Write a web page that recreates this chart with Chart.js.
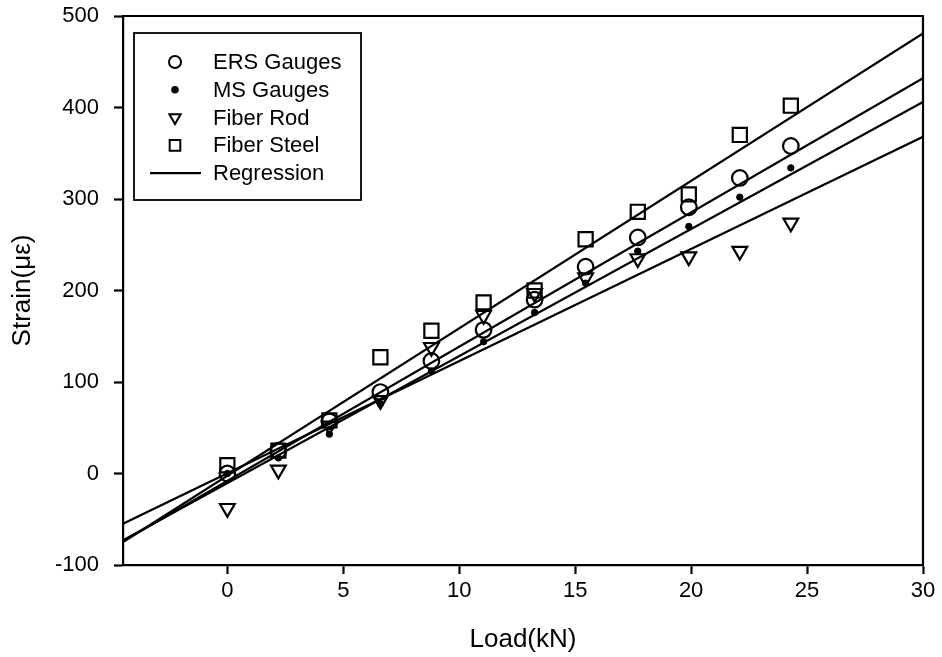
<!DOCTYPE html>
<html>
<head>
<meta charset="utf-8">
<script src="https://cdn.jsdelivr.net/npm/chart.js@4.4.0/dist/chart.umd.min.js"></script>
<style>
  html, body { margin: 0; padding: 0; background: #fff; }
  #wrap { width: 942px; height: 657px; }
</style>
</head>
<body>
<div id="wrap"><canvas id="strainChart" width="942" height="657"></canvas></div>
<script>
// load steps (kN)
const loads = [0, 2.2, 4.4, 6.6, 8.8, 11.05, 13.25, 15.45, 17.7, 19.9, 22.1, 24.3];

// measured strain (microstrain)
const ersGauges = [0, 25, 57, 89, 123, 157, 190, 226, 258, 291, 323, 358];
const msGauges = [0, 17, 43, 76, 112, 144, 176, 208, 243, 270, 302, 334];
const fiberRod = [-38, 4, 52, 80, 138, 173, 197, 214, 235, 237, 243, 274];
const fiberSteel = [9, 25, 58, 127, 156, 187, 200, 256, 286, 305, 370, 402];

// regression line end points
const regLoads = [-4.5, 30];
const regSteel = [-75, 481];
const regErs = [-74, 432];
const regMs = [-73, 406];
const regRod = [-55, 368];

const xTicks = [0, 5, 10, 15, 20, 25, 30];
const yTicks = [-100, 0, 100, 200, 300, 400, 500];

const FONT = "Arial, 'Liberation Sans', sans-serif";

function pts(xs, ys) {
  return xs.map((x, i) => ({ x: x, y: ys[i] }));
}

function regLine(ys) {
  return {
    label: "Regression",
    data: pts(regLoads, ys),
    showLine: true,
    borderColor: "#000",
    borderWidth: 2.2,
    pointRadius: 0,
    pointHoverRadius: 0,
    fill: false,
  };
}

// box around the plot (top and right sides)
const frame = {
  id: "frame",
  afterDatasetsDraw(chart) {
    const { ctx, chartArea: a } = chart;
    ctx.save();
    ctx.strokeStyle = "#000";
    ctx.lineWidth = 2.2;
    ctx.beginPath();
    ctx.moveTo(a.left, a.top);
    ctx.lineTo(a.right, a.top);
    ctx.lineTo(a.right, a.bottom);
    ctx.stroke();
    ctx.restore();
  },
};

// legend box in the upper left of the plot
const legendBox = {
  id: "legendBox",
  afterDraw(chart) {
    const ctx = chart.ctx;
    const a = chart.chartArea;
    const left = a.left + 11, top = a.top + 17, w = 227, h = 167;
    ctx.save();
    ctx.fillStyle = "#fff";
    ctx.fillRect(left, top, w, h);
    ctx.strokeStyle = "#000";
    ctx.lineWidth = 1.8;
    ctx.strokeRect(left, top, w, h);

    const items = [
      { text: "ERS Gauges", style: "circle", r: 6, fill: false, rot: 0 },
      { text: "MS Gauges", style: "circle", r: 2.8, fill: true, rot: 0 },
      { text: "Fiber Rod", style: "triangle", r: 6.5, fill: false, rot: 180 },
      { text: "Fiber Steel", style: "rect", r: 7.5, fill: false, rot: 0 },
      { text: "Regression", style: "line" },
    ];
    ctx.font = "22px " + FONT;
    ctx.textBaseline = "middle";
    ctx.textAlign = "left";
    items.forEach((it, i) => {
      const y = top + 29 + i * 27.8;
      const mx = left + 41;
      ctx.strokeStyle = "#000";
      ctx.fillStyle = "#000";
      if (it.style === "line") {
        ctx.lineWidth = 2.2;
        ctx.beginPath();
        ctx.moveTo(left + 16, y);
        ctx.lineTo(left + 67, y);
        ctx.stroke();
      } else {
        ctx.lineWidth = 2;
        ctx.fillStyle = it.fill ? "#000" : "rgba(0,0,0,0)";
        Chart.helpers.drawPoint(ctx, { pointStyle: it.style, radius: it.r, rotation: it.rot, borderWidth: 2 }, mx, y);
      }
      ctx.fillStyle = "#000";
      ctx.fillText(it.text, left + 79, y + 1);
    });
    ctx.restore();
  },
};

new Chart(document.getElementById("strainChart").getContext("2d"), {
  type: "scatter",
  data: {
    datasets: [
      {
        label: "ERS Gauges",
        data: pts(loads, ersGauges),
        pointStyle: "circle",
        pointRadius: 7.8,
        pointBorderWidth: 2.2,
        borderColor: "#000",
        backgroundColor: "rgba(0,0,0,0)",
      },
      {
        label: "MS Gauges",
        data: pts(loads, msGauges),
        pointStyle: "circle",
        pointRadius: 3.2,
        pointBorderWidth: 1,
        borderColor: "#000",
        backgroundColor: "#000",
      },
      {
        label: "Fiber Rod",
        data: pts(loads, fiberRod),
        pointStyle: "triangle",
        pointRotation: 180,
        pointRadius: 8.5,
        pointBorderWidth: 2.2,
        borderColor: "#000",
        backgroundColor: "rgba(0,0,0,0)",
      },
      {
        label: "Fiber Steel",
        data: pts(loads, fiberSteel),
        pointStyle: "rect",
        pointRadius: 10,
        pointBorderWidth: 2.2,
        borderColor: "#000",
        backgroundColor: "rgba(0,0,0,0)",
      },
      regLine(regSteel),
      regLine(regErs),
      regLine(regMs),
      regLine(regRod),
    ],
  },
  options: {
    responsive: false,
    animation: false,
    layout: { padding: { top: 16, right: 19, left: 0, bottom: 0 } },
    plugins: {
      legend: { display: false },
      tooltip: { enabled: false },
    },
    scales: {
      x: {
        type: "linear",
        min: -4.5,
        max: 30,
        afterBuildTicks: (s) => { s.ticks = xTicks.map((v) => ({ value: v })); },
        afterFit: (s) => { s.height = 92; s.paddingLeft = 2; s.paddingRight = 2; },
        grid: { drawOnChartArea: false, tickLength: 9, tickWidth: 2.2, color: "#000" },
        border: { color: "#000", width: 2.2 },
        ticks: { color: "#000", font: { family: FONT, size: 22 }, padding: 4, maxRotation: 0 },
        title: {
          display: true,
          text: "Load(kN)",
          color: "#000",
          font: { family: FONT, size: 26 },
          padding: { top: 2, bottom: 2 },
        },
      },
      y: {
        type: "linear",
        min: -100,
        max: 500,
        afterBuildTicks: (s) => { s.ticks = yTicks.map((v) => ({ value: v })); },
        afterFit: (s) => { s.width = 123; s.paddingTop = 2; s.paddingBottom = 2; },
        grid: { drawOnChartArea: false, tickLength: 9, tickWidth: 2.2, color: "#000" },
        border: { color: "#000", width: 2.2 },
        ticks: { color: "#000", font: { family: FONT, size: 22 }, padding: 15 },
        title: {
          display: true,
          text: "Strain(με)",
          color: "#000",
          font: { family: FONT, size: 26 },
          padding: { top: 7, bottom: 0 },
        },
      },
    },
  },
  plugins: [frame, legendBox],
});
</script>
</body>
</html>
